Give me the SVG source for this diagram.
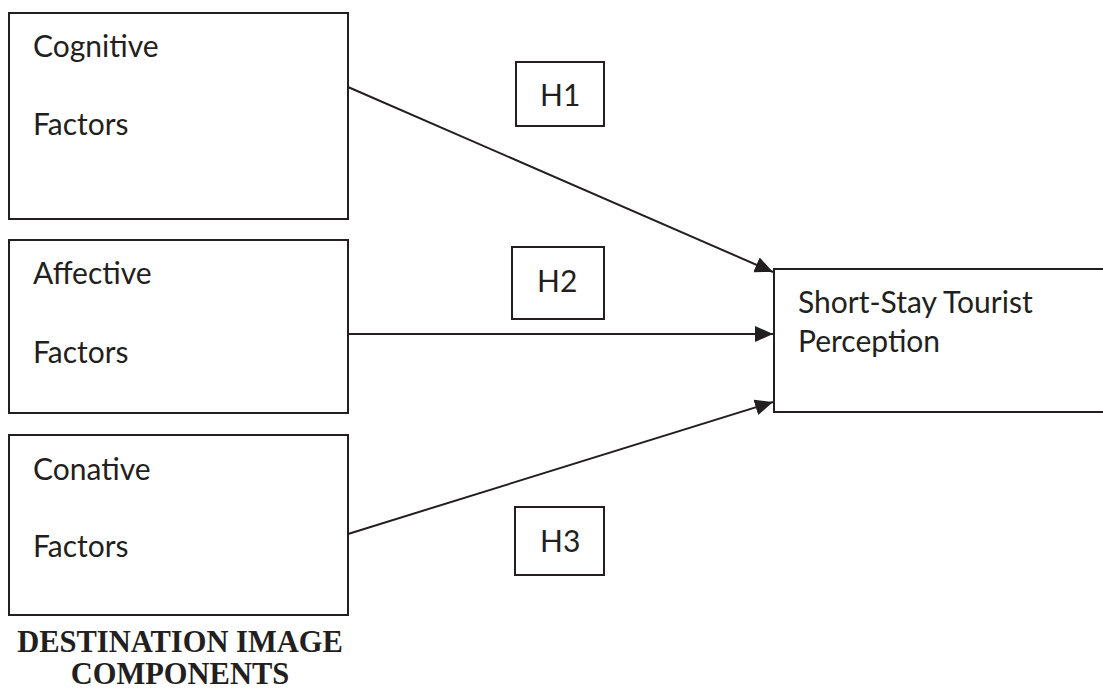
<svg xmlns="http://www.w3.org/2000/svg" width="1103" height="689" viewBox="0 0 1103 689">
  <style>
    .box { fill: #ffffff; stroke: #231f20; stroke-width: 2; }
    .lbl { font-family: Lato, "Open Sans", sans-serif; font-size: 30px; fill: #231f20; }
    .edge { stroke: #231f20; stroke-width: 2; fill: none; marker-end: url(#arrow); }
    .title { font-family: "Liberation Serif", "Times New Roman", serif; font-weight: bold; font-size: 30.5px; fill: #231f20; text-anchor: middle; }
  </style>
  <defs>
    <marker id="arrow" viewBox="0 0 18 16" refX="18" refY="8" markerWidth="18" markerHeight="16" markerUnits="userSpaceOnUse" orient="auto">
      <path d="M0,0 L18,8 L0,16 Z" fill="#231f20"/>
    </marker>
  </defs>
  <rect width="1103" height="689" fill="#ffffff"/>

  <!-- hypothesis paths into the outcome box -->
  <g id="connectors">
    <line class="edge" x1="348" y1="87" x2="773" y2="272"/>
    <line class="edge" x1="348" y1="334" x2="773" y2="334"/>
    <line class="edge" x1="348" y1="534" x2="773" y2="402"/>
  </g>

  <g id="cognitive">
    <rect class="box" x="9" y="13" width="339" height="206"/>
    <text class="lbl" x="33" y="57">Cognitive</text>
    <text class="lbl" x="33" y="135">Factors</text>
  </g>
  <g id="affective">
    <rect class="box" x="9" y="240" width="339" height="173"/>
    <text class="lbl" x="33" y="284">Affective</text>
    <text class="lbl" x="33" y="363">Factors</text>
  </g>
  <g id="conative">
    <rect class="box" x="9" y="435" width="339" height="180"/>
    <text class="lbl" x="33" y="480">Conative</text>
    <text class="lbl" x="33" y="557">Factors</text>
  </g>
  <g id="components-title">
    <text class="title" x="180" y="652">DESTINATION IMAGE</text>
    <text class="title" x="180" y="684">COMPONENTS</text>
  </g>

  <g id="h1">
    <rect class="box" x="516" y="62" width="88" height="64"/>
    <text class="lbl" x="540" y="106">H1</text>
  </g>
  <g id="h2">
    <rect class="box" x="512" y="247" width="92" height="72"/>
    <text class="lbl" x="537" y="292">H2</text>
  </g>
  <g id="h3">
    <rect class="box" x="515" y="507" width="89" height="68"/>
    <text class="lbl" x="540" y="552">H3</text>
  </g>

  <!-- outcome box runs past the right edge -->
  <g id="perception">
    <rect class="box" x="774" y="269" width="340" height="143"/>
    <text class="lbl" x="798" y="313">Short-Stay Tourist</text>
    <text class="lbl" x="798" y="352">Perception</text>
  </g>
</svg>
